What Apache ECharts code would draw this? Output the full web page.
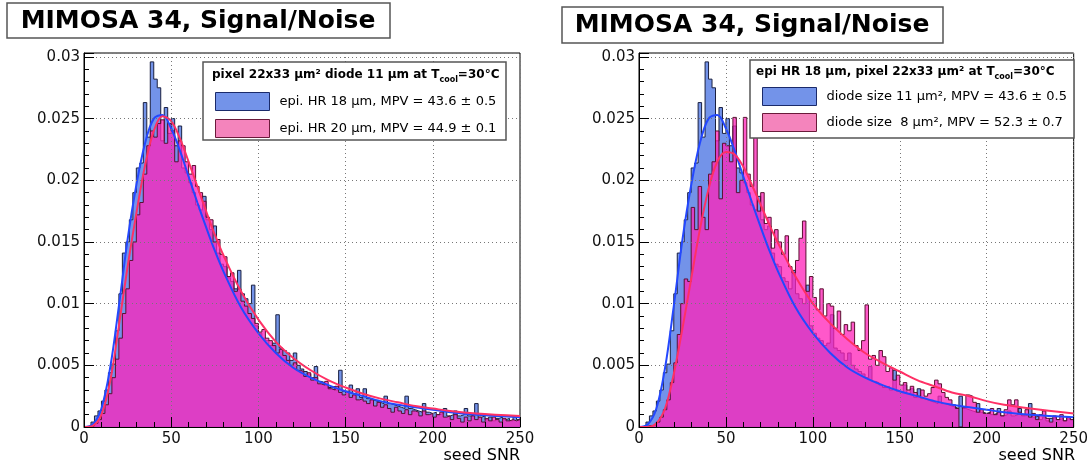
<!DOCTYPE html>
<html>
<head>
<meta charset="utf-8">
<script src="https://cdn.jsdelivr.net/npm/echarts@6/dist/echarts.min.js"></script>
<style>
  html, body { margin: 0; padding: 0; background: #fff; }
  #chart { width: 1091px; height: 466px; }
</style>
</head>
<body>
<div id="chart"></div>
<script>
// histogram bins: width 2 in seed SNR, from 0 to 250
const binWidth = 2;

// epi HR 18 um, diode 11 um (same sample in both panels)
const snrBlue = [
  0.0000, 0.0001, 0.0004, 0.0009, 0.0013, 0.0021, 0.0030, 0.0044, 0.0051, 0.0078,
  0.0108, 0.0141, 0.0150, 0.0168, 0.0190, 0.0210, 0.0214, 0.0263, 0.0235, 0.0296,
  0.0282, 0.0275, 0.0232, 0.0259, 0.0238, 0.0250, 0.0228, 0.0244, 0.0210, 0.0206,
  0.0198, 0.0190, 0.0180, 0.0176, 0.0187, 0.0168, 0.0160, 0.0163, 0.0141, 0.0132,
  0.0130, 0.0121, 0.0118, 0.0112, 0.0127, 0.0108, 0.0104, 0.0100, 0.0115, 0.0082,
  0.0076, 0.0072, 0.0070, 0.0066, 0.0068, 0.0091, 0.0064, 0.0062, 0.0060, 0.0054,
  0.0060, 0.0050, 0.0047, 0.0045, 0.0043, 0.0040, 0.0049, 0.0037, 0.0036, 0.0034,
  0.0032, 0.0033, 0.0030, 0.0046, 0.0029, 0.0028, 0.0034, 0.0027, 0.0031, 0.0024,
  0.0031, 0.0023, 0.0022, 0.0021, 0.0020, 0.0019, 0.0025, 0.0019, 0.0018, 0.0017,
  0.0016, 0.0015, 0.0025, 0.0015, 0.0014, 0.0013, 0.0012, 0.0019, 0.0012, 0.0011,
  0.0012, 0.0010, 0.0011, 0.0015, 0.0009, 0.0010, 0.0013, 0.0009, 0.0010, 0.0015,
  0.0009, 0.0010, 0.0019, 0.0008, 0.0009, 0.0006, 0.0008, 0.0005, 0.0007, 0.0008,
  0.0006, 0.0007, 0.0005, 0.0008, 0.0006
];

// epi HR 20 um (left panel)
const snrPinkLeft = [
  0.0000, 0.0000, 0.0001, 0.0003, 0.0006, 0.0011, 0.0018, 0.0027, 0.0040, 0.0055,
  0.0072, 0.0092, 0.0112, 0.0135, 0.0150, 0.0172, 0.0182, 0.0205, 0.0228, 0.0240,
  0.0235, 0.0246, 0.0249, 0.0230, 0.0246, 0.0240, 0.0215, 0.0232, 0.0228, 0.0215,
  0.0205, 0.0212, 0.0195, 0.0190, 0.0183, 0.0170, 0.0168, 0.0150, 0.0152, 0.0140,
  0.0138, 0.0122, 0.0125, 0.0110, 0.0112, 0.0102, 0.0098, 0.0092, 0.0088, 0.0084,
  0.0077, 0.0079, 0.0072, 0.0070, 0.0066, 0.0060, 0.0063, 0.0058, 0.0054, 0.0050,
  0.0052, 0.0046, 0.0045, 0.0041, 0.0044, 0.0038, 0.0040, 0.0035, 0.0034, 0.0037,
  0.0031, 0.0030, 0.0033, 0.0028, 0.0026, 0.0029, 0.0024, 0.0026, 0.0022, 0.0023,
  0.0021, 0.0019, 0.0022, 0.0017, 0.0020, 0.0016, 0.0018, 0.0015, 0.0012, 0.0016,
  0.0013, 0.0011, 0.0014, 0.0010, 0.0013, 0.0012, 0.0009, 0.0013, 0.0010, 0.0011,
  0.0008, 0.0010, 0.0012, 0.0008, 0.0009, 0.0006, 0.0010, 0.0007, 0.0004, 0.0008,
  0.0005, 0.0009, 0.0006, 0.0008, 0.0004, 0.0007, 0.0005, 0.0008, 0.0006, 0.0004,
  0.0007, 0.0005, 0.0006, 0.0005, 0.0006
];

// diode 8 um (right panel)
const snrPinkRight = [
  0.0000, 0.0000, 0.0001, 0.0001, 0.0002, 0.0004, 0.0008, 0.0014, 0.0022, 0.0036,
  0.0052, 0.0075, 0.0100, 0.0120, 0.0118, 0.0178, 0.0160, 0.0195, 0.0170, 0.0160,
  0.0205, 0.0215, 0.0240, 0.0185, 0.0230, 0.0228, 0.0215, 0.0251, 0.0190, 0.0200,
  0.0251, 0.0205, 0.0195, 0.0236, 0.0175, 0.0190, 0.0165, 0.0170, 0.0145, 0.0160,
  0.0150, 0.0140, 0.0155, 0.0130, 0.0125, 0.0135, 0.0153, 0.0167, 0.0110, 0.0122,
  0.0105, 0.0095, 0.0112, 0.0090, 0.0100, 0.0098, 0.0080, 0.0094, 0.0075, 0.0083,
  0.0078, 0.0085, 0.0066, 0.0062, 0.0070, 0.0099, 0.0055, 0.0058, 0.0050, 0.0062,
  0.0057, 0.0045, 0.0048, 0.0038, 0.0042, 0.0034, 0.0036, 0.0030, 0.0033, 0.0028,
  0.0025, 0.0030, 0.0025, 0.0027, 0.0032, 0.0038, 0.0035, 0.0028, 0.0024, 0.0022,
  0.0018, 0.0015, 0.0000, 0.0016, 0.0026, 0.0025, 0.0020, 0.0012, 0.0014, 0.0011,
  0.0011, 0.0015, 0.0010, 0.0012, 0.0009, 0.0014, 0.0022, 0.0018, 0.0022, 0.0012,
  0.0010, 0.0014, 0.0008, 0.0011, 0.0006, 0.0010, 0.0013, 0.0007, 0.0004, 0.0009,
  0.0006, 0.0010, 0.0005, 0.0008, 0.0006
];

// Landau fits
const fitX = [0, 5, 10, 15, 20, 25, 30, 35, 40, 45, 50, 55, 60, 65, 70, 75, 80, 90, 100, 110,
  120, 130, 140, 150, 160, 170, 180, 190, 200, 210, 225, 250];
const fitBlue = [0, 0.0002, 0.0015, 0.0048, 0.0098, 0.0152, 0.0196, 0.0230, 0.0250, 0.0253,
  0.0242, 0.0224, 0.0203, 0.0182, 0.0162, 0.0143, 0.0126, 0.0097, 0.0076, 0.0060,
  0.0048, 0.0040, 0.0034, 0.0029, 0.0025, 0.0021, 0.0018, 0.0016, 0.0014, 0.0012, 0.0010, 0.0008];
const fitPinkLeft = [0, 0.0001, 0.0010, 0.0037, 0.0082, 0.0130, 0.0173, 0.0212, 0.0240, 0.0252,
  0.0248, 0.0234, 0.0215, 0.0195, 0.0175, 0.0156, 0.0139, 0.0110, 0.0087, 0.0069,
  0.0056, 0.0046, 0.0038, 0.0032, 0.0027, 0.0023, 0.0020, 0.0017, 0.0015, 0.0013, 0.0011, 0.0009];
const fitPinkRight = [0, 0, 0.0003, 0.0015, 0.0043, 0.0080, 0.0120, 0.0160, 0.0193, 0.0215,
  0.0223, 0.0221, 0.0211, 0.0196, 0.0180, 0.0164, 0.0149, 0.0122, 0.0100, 0.0084,
  0.0071, 0.0060, 0.0052, 0.0045, 0.0038, 0.0033, 0.0028, 0.0025, 0.0021, 0.0018, 0.0015, 0.0011];

const namesLeft = ['epi. HR 18 \u00b5m, MPV = 43.6 \u00b1 0.5', 'epi. HR 20 \u00b5m, MPV = 44.9 \u00b1 0.1'];
const namesRight = ['diode size 11 \u00b5m\u00b2, MPV = 43.6 \u00b1 0.5', 'diode size  8 \u00b5m\u00b2, MPV = 52.3 \u00b1 0.7'];

const blueFill = 'rgba(80,120,228,0.8)';
const pinkFill = 'rgba(255,35,185,0.76)';
const font = 'DejaVu Sans';

function histSteps(values) {
  const pts = values.map((v, i) => [i * binWidth, v]);
  pts.push([values.length * binWidth, values[values.length - 1]]);
  return pts;
}
function fitPoints(ys) {
  return fitX.map((x, i) => [x, ys[i]]);
}

function xAxisFor(i) {
  return {
    type: 'value', gridIndex: i, min: 0, max: 250, interval: 50, z: 5,
    axisLine: { lineStyle: { color: '#000' } },
    axisTick: { inside: true, length: 10, lineStyle: { color: '#000' } },
    minorTick: { show: true, splitNumber: 5, length: 5, lineStyle: { color: '#000' } },
    axisLabel: { fontFamily: font, fontSize: 15, color: '#111', margin: 5 },
    splitLine: { show: true, lineStyle: { color: '#777', type: [1, 3] } }
  };
}
function yAxisFor(i) {
  return {
    type: 'value', gridIndex: i, min: 0, max: 0.03032, interval: 0.005, z: 5,
    axisLine: { show: true, lineStyle: { color: '#000' } },
    axisTick: { inside: true, length: 10, lineStyle: { color: '#000' } },
    minorTick: { show: true, splitNumber: 5, length: 5, lineStyle: { color: '#000' } },
    axisLabel: { fontFamily: font, fontSize: 15, color: '#111', margin: 4, showMaxLabel: false },
    splitLine: { show: true, lineStyle: { color: '#777', type: [1, 3] } }
  };
}
function histSeries(name, values, i, fill, edge, z) {
  return {
    name: name, type: 'line', step: 'end', xAxisIndex: i, yAxisIndex: i,
    data: histSteps(values), symbol: 'none', z: z,
    lineStyle: { color: edge, width: 1 },
    itemStyle: { color: fill },
    areaStyle: { color: fill, opacity: 1 }
  };
}
function fitSeries(ys, i, color) {
  return {
    type: 'line', xAxisIndex: i, yAxisIndex: i, data: fitPoints(ys),
    smooth: 0.35, symbol: 'none', z: 4,
    lineStyle: { color: color, width: 2 }
  };
}
function legendFor(names, left, top, gap) {
  return {
    data: [
      { name: names[0], itemStyle: { color: blueFill, borderColor: '#1a2a6a', borderWidth: 1 } },
      { name: names[1], itemStyle: { color: 'rgba(240,80,160,0.7)', borderColor: '#6a1a3a', borderWidth: 1 } }
    ],
    orient: 'vertical', left: left, top: top, padding: 0, z: 30,
    icon: 'rect', itemWidth: 54, itemHeight: 18, itemGap: gap, selectedMode: false,
    textStyle: { fontFamily: font, fontSize: 13, color: '#000', padding: [0, 0, 0, 5] }
  };
}
function header(x, y, a, b) {
  return {
    type: 'text', x: x, y: y, z: 25,
    style: {
      text: '{m|' + a + '}{s|cool}{m|' + b + '}',
      verticalAlign: 'middle',
      rich: {
        m: { fontFamily: font, fontWeight: 'bold', fontSize: 12, lineHeight: 18, verticalAlign: 'middle', fill: '#000' },
        s: { fontFamily: font, fontWeight: 'bold', fontSize: 8, lineHeight: 18, verticalAlign: 'bottom', fill: '#000' }
      }
    }
  };
}
function box(x, y, w, h) {
  return { type: 'rect', z: 20, shape: { x: x, y: y, width: w, height: h },
    style: { fill: '#fff', stroke: '#555', lineWidth: 1.5 } };
}
function label(x, y, text, size, weight, align) {
  return { type: 'text', x: x, y: y, z: 25,
    style: { text: text, fontFamily: font, fontSize: size, fontWeight: weight,
      align: align, verticalAlign: 'middle', fill: '#000' } };
}

const chart = echarts.init(document.getElementById('chart'));
chart.setOption({
  animation: false,
  backgroundColor: '#fff',
  grid: [
    { left: 84, top: 53, width: 436, height: 374, show: true, borderColor: '#000', borderWidth: 1, backgroundColor: '#fff' },
    { left: 639, top: 53, width: 436, height: 374, show: true, borderColor: '#000', borderWidth: 1, backgroundColor: '#fff' }
  ],
  xAxis: [xAxisFor(0), xAxisFor(1)],
  yAxis: [yAxisFor(0), yAxisFor(1)],
  legend: [legendFor(namesLeft, 215, 92, 8), legendFor(namesRight, 762, 87, 7)],
  series: [
    histSeries(namesLeft[0], snrBlue, 0, blueFill, '#1a2040', 2),
    histSeries(namesLeft[1], snrPinkLeft, 0, pinkFill, '#5a1030', 3),
    fitSeries(fitBlue, 0, '#2448ff'),
    fitSeries(fitPinkLeft, 0, '#ff3065'),
    histSeries(namesRight[0], snrBlue, 1, blueFill, '#1a2040', 2),
    histSeries(namesRight[1], snrPinkRight, 1, pinkFill, '#5a1030', 3),
    fitSeries(fitBlue, 1, '#2448ff'),
    fitSeries(fitPinkRight, 1, '#ff3065')
  ],
  graphic: [
    box(7, 3, 383, 35),
    label(198, 21, 'MIMOSA 34, Signal/Noise', 25, 'bold', 'center'),
    box(562, 7, 381, 36),
    label(752, 25, 'MIMOSA 34, Signal/Noise', 25, 'bold', 'center'),
    box(203, 62, 303, 78),
    header(212, 75, 'pixel 22x33 \u00b5m\u00b2 diode 11 \u00b5m at T', '=30\u00b0C'),
    box(750, 60, 324, 78),
    header(756, 72, 'epi HR 18 \u00b5m, pixel 22x33 \u00b5m\u00b2 at T', '=30\u00b0C'),
    label(520, 456, 'seed SNR', 16, 'normal', 'right'),
    label(1075, 456, 'seed SNR', 16, 'normal', 'right')
  ]
});
</script>
</body>
</html>
